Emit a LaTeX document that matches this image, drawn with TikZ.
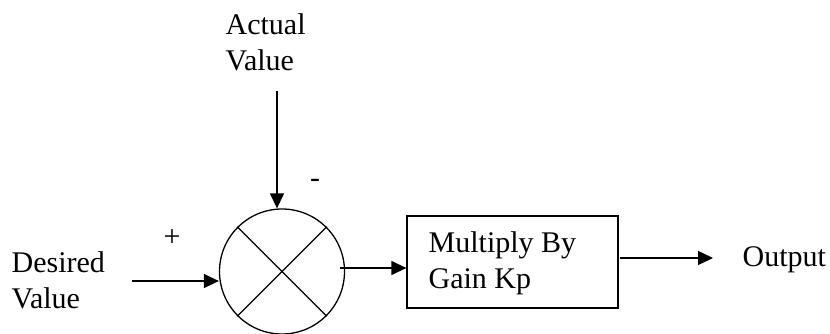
\documentclass[tikz,border=0pt]{standalone}
\usepackage{fontspec}
\setmainfont{Liberation Serif}
\usetikzlibrary{arrows.meta,calc}
\begin{document}
\begin{tikzpicture}[x=1pt,y=-1pt,
  line width=1.3pt,
  flow/.style={-{Triangle[length=15pt,width=14pt]}},
  % multi-line labels are placed by the baseline of their last line
  lbl/.style={font=\fontsize{30}{36}\selectfont, inner sep=0pt, align=left, anchor=base west},
  sign/.style={font=\fontsize{30}{32}\selectfont, inner sep=0pt}]
\useasboundingbox (0,0) rectangle (830,334);

% summing junction with its cross
\node[draw, circle, minimum size=125pt, inner sep=0pt] (sum) at (282,271.5) {};
\draw (sum.45) -- (sum.225);
\draw (sum.135) -- (sum.-45);

% gain block
\node[draw, minimum width=211pt, minimum height=92pt, inner sep=0pt] (gain) at (512.5,262) {};
\node[lbl] (gaintext) at (428,288) {Multiply By\\Gain Kp};

% labels
\node[lbl] (desired) at (11,308) {Desired\\Value};
\node[lbl] (actual) at (225,71) {Actual\\Value};
\node[lbl] (output) at (742,266) {Output};
\node[sign] (plus) at (172,238) {+};
\node[sign] (minus) at (315,183) {-};

% connectors
\coordinate (din) at (132,281);
\coordinate (ain) at (277,91);
\coordinate (sout) at (340,268);
\coordinate (gout) at (620,258);
\coordinate (oend) at (713,258);
\draw[flow] (din) -- (din -| sum.west);
\draw[flow] (ain) -- (ain |- sum.north);
\draw[flow] (sout) -- (sout -| gain.west);
\draw[flow] (gout) -- (oend);
\end{tikzpicture}
\end{document}
